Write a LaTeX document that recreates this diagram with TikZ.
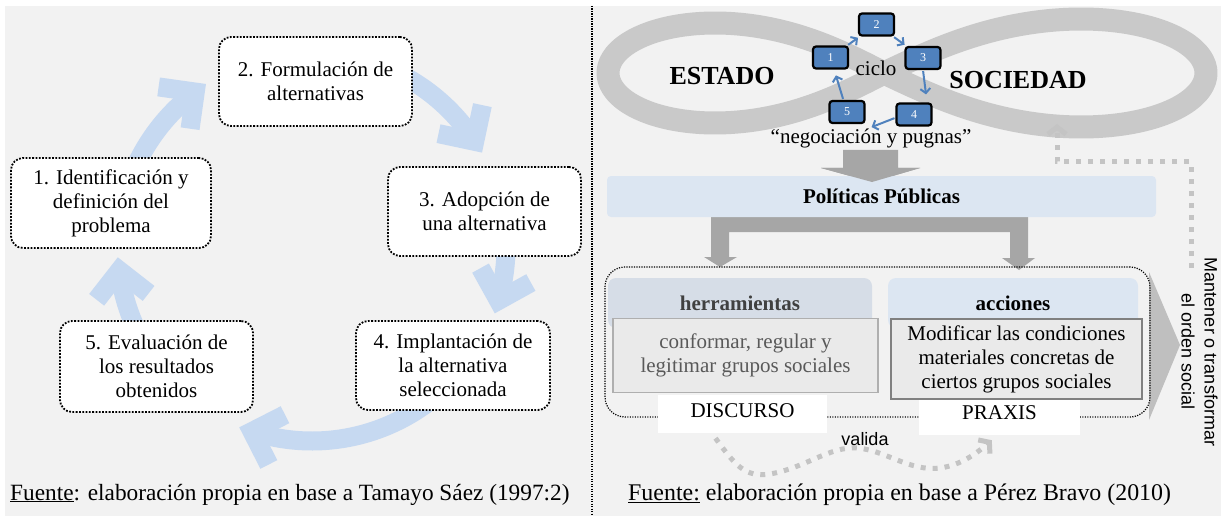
\documentclass[tikz,border=0pt]{standalone}
\usepackage{fontspec}
\setmainfont{Liberation Serif}
\setsansfont{Liberation Sans}
\usetikzlibrary{calc,arrows.meta}
\definecolor{bgray}{RGB}{242,242,242}
\definecolor{cycblue}{RGB}{198,217,241}
\definecolor{infgray}{RGB}{201,201,201}
\definecolor{numblue}{RGB}{79,129,189}
\definecolor{arrgray}{RGB}{166,166,166}
\definecolor{polblue}{RGB}{220,230,242}
\definecolor{hdrL}{RGB}{214,221,231}
\definecolor{contfill}{RGB}{234,234,234}
\definecolor{contLb}{RGB}{175,175,175}
\definecolor{contRb}{RGB}{128,128,128}
\definecolor{contLt}{RGB}{89,89,89}
\definecolor{hdrLt}{RGB}{64,64,64}
\definecolor{trigray}{RGB}{191,191,191}
\definecolor{dotgray}{RGB}{196,196,196}
\newcommand\myfs{\fontsize{21}{24}\selectfont}
\newcommand\cycarrow[2]{%
  \draw[cycband] ($(C)+(#1:194)$) arc[start angle=#1,end angle=#2,radius=194];
  \draw[cycband,line join=miter] ($(C)+(#2:194)+({#2-45}:37)$) -- ($(C)+(#2:194)$) -- ($(C)+(#2:194)+({#2-135}:37)$);
}
\begin{document}
\begin{tikzpicture}[x=1pt,y=-1pt,
  cycband/.style={line width=19pt, draw=cycblue, line cap=butt},
  stagebox/.style={draw=black, line width=1.8pt, dash pattern=on 1.8pt off 1.5pt, rounded corners=12pt, fill=white, align=center, inner sep=2pt, font=\myfs},
  numbox/.style={draw=black, line width=2.2pt, fill=numblue, rounded corners=3pt, minimum width=35pt, minimum height=22pt, inner sep=0pt, text=white, font=\fontsize{12}{14}\selectfont},
  sarrow/.style={draw=numblue, line width=2pt, -{Straight Barb[length=4.5pt,width=10pt]}},
  dotarrow/.style={draw=dotgray, line width=5pt, dash pattern=on 5pt off 7pt, -{Straight Barb[length=7pt,width=18pt]}},
  infband/.style={draw=infgray, line width=23pt, line join=round}
]
\useasboundingbox (0,0) rectangle (1221,516);
\fill[bgray] (5,6) rectangle (1221,516);
\draw[black, line width=1.2pt, dash pattern=on 1.2pt off 1.3pt] (592,6) -- (592,516);

% ---------------- left: cycle ----------------
\coordinate (C) at (312,247);
\cycarrow{200}{233}
\cycarrow{295}{327}
\cycarrow{-5}{16}
\cycarrow{50}{108}
\cycarrow{150}{173}

\node[stagebox, minimum width=193pt, minimum height=89pt] (s2) at (315.5,81.5) {2. Formulación de\\alternativas};
\node[stagebox, minimum width=200pt, minimum height=90pt] (s1) at (111,203) {1. Identificación y\\definición del\\problema};
\node[stagebox, minimum width=193pt, minimum height=89pt] (s3) at (484.5,211.5) {3. Adopción de\\una alternativa};
\node[stagebox, minimum width=194pt, minimum height=89pt] (s4) at (453,365.5) {4. Implantación de\\la alternativa\\seleccionada};
\node[stagebox, minimum width=193pt, minimum height=91pt] (s5) at (156.5,366.5) {5. Evaluación de\\los resultados\\obtenidos};

\node[font=\fontsize{23.3}{26}\selectfont, anchor=base west, inner sep=0pt] (fuenteL) at (10,500) {\underline{Fuente}: elaboración propia en base a Tamayo Sáez (1997:2)};

% ---------------- right: infinity ----------------
\draw[infband] plot[domain=0:360, samples=241, smooth, variable=\t]
  ({884 + ((cos(\t)>=0) ? 322 : 276)*cos(\t)/(1+sin(\t)*sin(\t))},
   {73 + ((cos(\t)>=0) ? 152.7 : 141.4)*sin(\t)*cos(\t)/(1+sin(\t)*sin(\t))}) -- cycle;

\node[font=\bfseries\fontsize{26}{30}\selectfont, anchor=base, inner sep=0pt] (estado) at (722,85) {ESTADO};
\node[font=\bfseries\fontsize{26}{30}\selectfont, anchor=base, inner sep=0pt] (sociedad) at (1018,89) {SOCIEDAD};
\node[font=\myfs, anchor=base, inner sep=0pt] (ciclo) at (876,76) {ciclo};

\node[numbox] (n1) at (830.5,57.5) {1};
\node[numbox] (n2) at (876.5,24.5) {2};
\node[numbox] (n3) at (923,58) {3};
\node[numbox] (n4) at (914,114.5) {4};
\node[numbox] (n5) at (847,112) {5};
\draw[sarrow, shorten >=2pt, shorten <=1pt] (n1) -- (n2);
\draw[sarrow, shorten >=2pt, shorten <=1pt] (n2) -- (n3);
\draw[sarrow, shorten <=1pt] (n3.south) -- ($(n4.north)+(12,-8)$);
\draw[sarrow, shorten <=1pt] (n4.190) -- ($(n5.south east)+(6,3)$);
\draw[sarrow, shorten >=6pt, shorten <=1pt] (n5) -- (n1);

% big gray arrow down
\fill[arrgray] (843,150) -- (898,150) -- (898,168) -- (920,168) -- (872,182) -- (821,168) -- (843,168) -- cycle;
\node[font=\myfs, anchor=base, inner sep=0pt] (neg) at (871,143) {“negociación y pugnas”};

% fork arrow
\fill[arrgray] (711,215) -- (1028,215) -- (1028,258) -- (1035,258) -- (1019,270) -- (1002,258) -- (1010,258) -- (1010,232) -- (729,232) -- (729,257) -- (737,257) -- (720,267) -- (704,257) -- (711,257) -- cycle;
\node[fill=polblue, rounded corners=4pt, minimum width=549pt, minimum height=41pt, font=\bfseries\myfs] (pol) at (881.5,196.5) {Políticas Públicas};
\fill[arrgray] (843,168) -- (898,168) -- (920,168) -- (872,182) -- (821,168) -- cycle;

% right triangle
\fill[trigray] (1149,272) -- (1180,345) -- (1149,420) -- cycle;

% container
\node[draw=black, line width=1.2pt, dash pattern=on 1.2pt off 1.3pt, rounded corners=20pt, minimum width=545pt, minimum height=150pt, inner sep=0pt] (cont) at (877.5,342) {};

% headers
\node[fill=hdrL, rounded corners=8pt, minimum width=264pt, minimum height=50pt, font=\bfseries\myfs, text=hdrLt] (hL) at (740,303) {herramientas};
\node[fill=polblue, rounded corners=8pt, minimum width=250pt, minimum height=50pt, font=\bfseries\myfs] (hR) at (1013,303) {acciones};

% content boxes
\node[draw=contLb, fill=contfill, line width=1.5pt, minimum width=265pt, minimum height=74pt, align=center, text=contLt, font=\myfs] (cL) at (745.5,355.5) {conformar, regular y\\legitimar grupos sociales};
\node[draw=contRb, fill=contfill, line width=1.5pt, minimum width=251pt, minimum height=80pt, align=center, font=\myfs] (cR) at (1016.5,359) {Modificar las condiciones\\materiales concretas de\\ciertos grupos sociales};

% white label boxes
\node[fill=white, minimum width=169pt, minimum height=38pt, inner sep=0pt] (disc) at (742.5,414) {};
\node[font=\myfs] (disct) at (742.5,411) {DISCURSO};
\node[fill=white, minimum width=161pt, minimum height=35pt, inner sep=0pt] (prax) at (999.5,417.5) {};
\node[font=\myfs] (praxt) at (999.5,413) {PRAXIS};

% valida arrow
\draw[dotarrow] ($(disc.south)+(-27,5)$) .. controls (735,465) and (745,478) .. (770,474)
  .. controls (805,468) and (830,446) .. (857,448)
  .. controls (885,450) and (910,472) .. (940,468)
  .. controls (962,465) and (978,452) .. ($(prax.south west)+(73,5)$);
\node[font=\sffamily\fontsize{18}{22}\selectfont, anchor=base, inner sep=0pt] (valida) at (865,445) {valida};

% feedback dotted arrow
\coordinate (fbstart) at (1191,268);
\coordinate (fbend) at (1057,124);
\draw[dotarrow] (fbstart) -- (1191,162) -- (1057,162) -- (fbend);

% vertical text
\node[rotate=-90, align=center, font=\sffamily\fontsize{18}{23}\selectfont] (mant) at (1199.5,352) {Mantener o transformar\\el orden social};

\node[font=\fontsize{23.9}{26}\selectfont, anchor=base west, inner sep=0pt] (fuenteR) at (628,500) {\underline{Fuente:} elaboración propia en base a Pérez Bravo (2010)};
\end{tikzpicture}
\end{document}
